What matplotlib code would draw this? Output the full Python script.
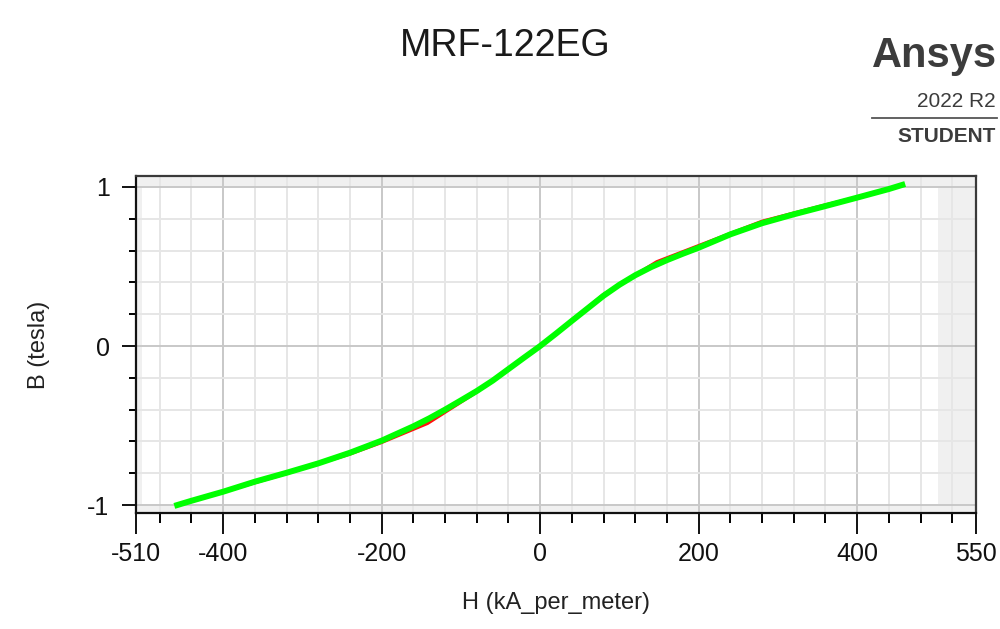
import matplotlib.pyplot as plt

# B-H curve of the MR fluid: smoothed curve (green) over the measured points (red)
h_fit = [-458, -440, -400, -360, -320, -280, -240, -200, -160, -140, -120, -100,
         -80, -60, -40, -20, 0, 20, 40, 60, 80, 100, 120, 140, 160, 180, 200,
         240, 280, 320, 360, 400, 440, 457]
b_fit = [-1.0, -0.973, -0.916, -0.853, -0.797, -0.738, -0.671, -0.595, -0.505,
         -0.455, -0.40, -0.342, -0.283, -0.218, -0.145, -0.072, 0.0, 0.078,
         0.158, 0.237, 0.316, 0.385, 0.445, 0.496, 0.54, 0.58, 0.618, 0.702,
         0.772, 0.828, 0.88, 0.933, 0.987, 1.013]

h_meas = [-458, -400, -320, -240, -200, -142, -80, -40, 0, 40, 80, 147, 200,
          280, 360, 400, 457]
b_meas = [-1.0, -0.918, -0.802, -0.68, -0.607, -0.487, -0.29, -0.147, 0.0,
          0.16, 0.325, 0.53, 0.632, 0.785, 0.888, 0.936, 1.013]

x_ticks = [-510, -400, -200, 0, 200, 400, 550]
y_ticks = [-1, 0, 1]

plt.rcParams['font.family'] = ['Liberation Sans', 'DejaVu Sans']

fig = plt.figure(figsize=(10, 6.29), dpi=100)
ax = fig.add_axes([0.136, 0.1844, 0.840, 0.5358])
ax.set_xlim(-510, 550)
ax.set_ylim(-1.05, 1.069)

# light band outside the data extent
band = '#f0f0f0'
ax.axvspan(-510, -502, color=band, lw=0, zorder=0)
ax.axvspan(502, 550, color=band, lw=0, zorder=0)
ax.axhspan(1.0, 1.069, color=band, lw=0, zorder=0)
ax.axhspan(-1.05, -1.0, color=band, lw=0, zorder=0)

ax.set_xticks(x_ticks)
ax.set_xticklabels([str(t) for t in x_ticks])
ax.set_yticks(y_ticks)
ax.set_yticklabels([str(t) for t in y_ticks])
ax.set_xticks([v for v in range(-480, 550, 40) if v % 200 != 0], minor=True)
ax.set_yticks([-0.8, -0.6, -0.4, -0.2, 0.2, 0.4, 0.6, 0.8], minor=True)

ax.set_axisbelow(True)
ax.grid(which='major', color='#c8c8c8', lw=1.4)
ax.grid(which='minor', color='#e6e6e6', lw=1.4)

ax.plot(h_meas, b_meas, color='#ff1010', lw=2.2, zorder=3)
ax.plot(h_fit, b_fit, color='#00ff00', lw=4.3, zorder=4,
        solid_capstyle='projecting')

ax.tick_params(axis='x', which='major', length=15, width=1.4, pad=6, labelsize=18)
ax.tick_params(axis='x', which='minor', length=7.5, width=1.4)
ax.tick_params(axis='y', which='major', length=10, width=1.4, pad=9, labelsize=18)
ax.tick_params(axis='y', which='minor', length=5, width=1.4)
ax.tick_params(colors='#111111')

for side in ['left', 'bottom']:
    ax.spines[side].set_linewidth(1.6)
    ax.spines[side].set_color('#111111')
for side in ['top', 'right']:
    ax.spines[side].set_linewidth(1.6)
    ax.spines[side].set_color('#3a3a3a')

ax.set_xlabel('H (kA_per_meter)', fontsize=17, color='#222222')
ax.set_ylabel('B (tesla)', fontsize=17, color='#222222')
ax.xaxis.set_label_coords(0.5, -0.235)
ax.yaxis.set_label_coords(-0.102, 0.5)

fig.text(0.505, 0.927, 'MRF-122EG', ha='center', va='center', fontsize=27,
         color='#1a1a1a')

# Ansys student watermark
fig.text(0.997, 0.893, 'Ansys', ha='right', va='baseline', fontsize=30,
         fontweight='bold', color='#3c3c3c')
fig.text(0.996, 0.830, '2022 R2', ha='right', va='baseline', fontsize=15,
         color='#3c3c3c')
fig.add_artist(plt.Line2D([0.872, 0.997], [0.813, 0.813], color='#555555',
                          lw=1.3, transform=fig.transFigure))
fig.text(0.996, 0.774, 'STUDENT', ha='right', va='baseline', fontsize=15,
         fontweight='bold', color='#3c3c3c')

fig.savefig('out.png', dpi=100)
